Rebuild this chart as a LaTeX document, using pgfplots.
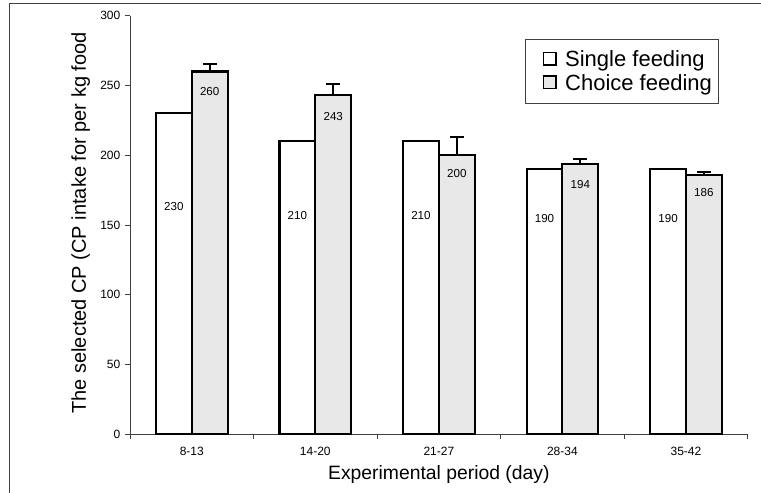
\documentclass[border=0pt]{standalone}
\usepackage{pgfplots}
\pgfplotsset{compat=1.18}
\usepackage{fontspec}
\setmainfont{Liberation Sans}
\definecolor{axgray}{HTML}{404040}
\definecolor{choicefill}{HTML}{E8E8E8}
\begin{document}
\begin{tikzpicture}
\path[use as bounding box] (0,0) rectangle (570.75pt,369.75pt);
\draw[axgray, line width=0.75pt] (6.75pt,-3pt) -- (6.75pt,366.75pt) -- (580pt,366.75pt);
\begin{axis}[
  at={(97.5pt,44pt)}, anchor=south west,
  scale only axis, width=463.3pt, height=313.95pt,
  xmin=-0.5, xmax=4.5, ymin=0, ymax=300,
  axis lines=left,
  axis line style={axgray, line width=0.6pt, -},
  tick align=outside,
  ytick={0,50,...,300},
  xtick={0,1,2,3,4},
  xticklabels={8-13,14-20,21-27,28-34,35-42},
  minor xtick={-0.5,0.5,1.5,2.5,3.5,4.5},
  major x tick style={draw=none},
  minor x tick style={axgray, line width=0.6pt},
  ytick style={axgray, line width=0.6pt},
  major tick length=3.75pt, minor tick length=3.75pt,
  /pgf/number format/assume math mode=true,
  tick label style={font=\fontsize{9}{11}\selectfont},
  xticklabel style={yshift=-2.25pt},
  xlabel={Experimental period (day)},
  ylabel={The selected CP (CP intake for per kg food},
  xlabel style={font=\fontsize{14.5}{17}\selectfont, at={(axis description cs:0.5,-0.095)}, anchor=center},
  ylabel style={font=\fontsize{15}{18}\selectfont, at={(axis description cs:-0.08,0.505)}, anchor=center},
  legend style={at={(0.9535,0.944)}, anchor=north east,
    draw=axgray, line width=0.6pt, font=\fontsize{16.5}{19.5}\selectfont,
    inner xsep=3pt, inner ysep=6.5pt, row sep=0pt},
  legend cell align=left,
]
\addplot[ybar, bar width=0.29, bar shift=0, draw=black, line width=1.6pt, fill=white,
  legend image code/.code={\path (-9.5pt,0pt) (13.5pt,0pt);
    \draw[draw=black, line width=1.2pt, fill=white] (0pt,-4pt) rectangle (9.4pt,5.4pt);}]
  coordinates {(-0.145,230) (0.855,210) (1.855,210) (2.855,190) (3.855,190)};
\addlegendentry{Single feeding}
\addplot[ybar, bar width=0.29, bar shift=0, draw=black, line width=1.6pt, fill=choicefill,
  error bars/.cd, y dir=plus, y explicit,
  error bar style={line width=1.6pt, black},
  error mark options={rotate=90, line width=1.6pt, black, mark size=5.25pt},
  /pgfplots/legend image code/.code={\path (-9.5pt,0pt) (13.5pt,0pt);
    \draw[draw=black, line width=1.2pt, fill=choicefill] (0pt,-4pt) rectangle (9.4pt,5.4pt);}]
  coordinates {(0.145,260) +- (0,5.4) (1.145,243) +- (0,8) (2.145,200) +- (0,13) (3.145,194) +- (0,3.3) (4.145,186) +- (0,1.8)};
\addlegendentry{Choice feeding}
\addplot[draw=none, mark=none, forget plot, nodes near coords, point meta=explicit symbolic,
  nodes near coords style={anchor=center, font=\fontsize{8.7}{10}\selectfont, text=black}]
  coordinates {(-0.145,163)[230] (0.855,157)[210] (1.855,157)[210] (2.855,155)[190] (3.855,155)[190]
               (0.145,246)[260] (1.145,228)[243] (2.145,187)[200] (3.145,179)[194] (4.145,173)[186]};
\end{axis}
\end{tikzpicture}
\end{document}
